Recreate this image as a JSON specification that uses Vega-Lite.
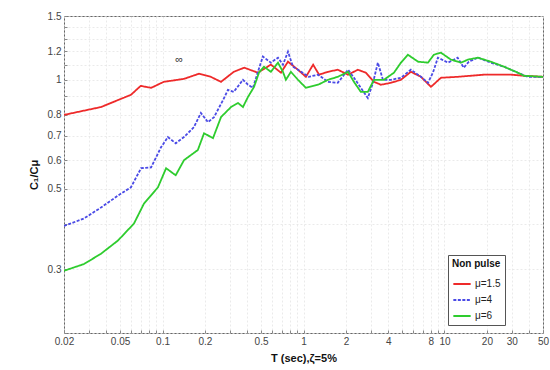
{
  "$schema": "https://vega.github.io/schema/vega-lite/v6.json",
  "autosize": {"type": "none"},
  "width": 479,
  "height": 317,
  "padding": {"left": 64, "top": 16, "right": 7, "bottom": 37},
  "background": "white",
  "config": {
    "view": {"stroke": "#666", "strokeWidth": 1},
    "font": "Liberation Sans",
    "axis": {"gridColor": "#e4e4e4", "gridDash": [2, 2], "gridWidth": 0.8, "domain": false, "tickColor": "#888", "tickSize": -3, "labelColor": "#444", "labelFontSize": 10, "titleFontSize": 11, "titleFontWeight": "bold", "titleColor": "#111"}
  },
  "datasets": {
    "curves": [
      {"T": 0.02, "v": 0.80, "mu": "μ=1.5"},
      {"T": 0.0366, "v": 0.841, "mu": "μ=1.5"},
      {"T": 0.0597, "v": 0.909, "mu": "μ=1.5"},
      {"T": 0.070, "v": 0.962, "mu": "μ=1.5"},
      {"T": 0.083, "v": 0.95, "mu": "μ=1.5"},
      {"T": 0.102, "v": 0.987, "mu": "μ=1.5"},
      {"T": 0.142, "v": 1.006, "mu": "μ=1.5"},
      {"T": 0.181, "v": 1.039, "mu": "μ=1.5"},
      {"T": 0.22, "v": 1.019, "mu": "μ=1.5"},
      {"T": 0.26, "v": 0.987, "mu": "μ=1.5"},
      {"T": 0.32, "v": 1.052, "mu": "μ=1.5"},
      {"T": 0.38, "v": 1.08, "mu": "μ=1.5"},
      {"T": 0.475, "v": 1.046, "mu": "μ=1.5"},
      {"T": 0.587, "v": 1.101, "mu": "μ=1.5"},
      {"T": 0.692, "v": 1.046, "mu": "μ=1.5"},
      {"T": 0.776, "v": 1.122, "mu": "μ=1.5"},
      {"T": 0.914, "v": 1.066, "mu": "μ=1.5"},
      {"T": 1.04, "v": 1.019, "mu": "μ=1.5"},
      {"T": 1.17, "v": 1.101, "mu": "μ=1.5"},
      {"T": 1.29, "v": 1.033, "mu": "μ=1.5"},
      {"T": 1.49, "v": 1.052, "mu": "μ=1.5"},
      {"T": 1.75, "v": 1.066, "mu": "μ=1.5"},
      {"T": 2.07, "v": 1.033, "mu": "μ=1.5"},
      {"T": 2.43, "v": 1.066, "mu": "μ=1.5"},
      {"T": 2.77, "v": 1.046, "mu": "μ=1.5"},
      {"T": 3.16, "v": 0.987, "mu": "μ=1.5"},
      {"T": 3.54, "v": 0.969, "mu": "μ=1.5"},
      {"T": 4.17, "v": 0.981, "mu": "μ=1.5"},
      {"T": 4.91, "v": 1.0, "mu": "μ=1.5"},
      {"T": 5.78, "v": 1.052, "mu": "μ=1.5"},
      {"T": 6.81, "v": 1.019, "mu": "μ=1.5"},
      {"T": 8.02, "v": 0.956, "mu": "μ=1.5"},
      {"T": 9.44, "v": 1.013, "mu": "μ=1.5"},
      {"T": 12.4, "v": 1.019, "mu": "μ=1.5"},
      {"T": 19.0, "v": 1.033, "mu": "μ=1.5"},
      {"T": 29.6, "v": 1.033, "mu": "μ=1.5"},
      {"T": 36.6, "v": 1.026, "mu": "μ=1.5"},
      {"T": 50, "v": 1.019, "mu": "μ=1.5"},

      {"T": 0.02, "v": 0.395, "mu": "μ=4"},
      {"T": 0.0277, "v": 0.414, "mu": "μ=4"},
      {"T": 0.0366, "v": 0.444, "mu": "μ=4"},
      {"T": 0.0483, "v": 0.479, "mu": "μ=4"},
      {"T": 0.0597, "v": 0.505, "mu": "μ=4"},
      {"T": 0.0704, "v": 0.570, "mu": "μ=4"},
      {"T": 0.083, "v": 0.573, "mu": "μ=4"},
      {"T": 0.0975, "v": 0.651, "mu": "μ=4"},
      {"T": 0.109, "v": 0.695, "mu": "μ=4"},
      {"T": 0.124, "v": 0.668, "mu": "μ=4"},
      {"T": 0.142, "v": 0.695, "mu": "μ=4"},
      {"T": 0.167, "v": 0.740, "mu": "μ=4"},
      {"T": 0.187, "v": 0.81, "mu": "μ=4"},
      {"T": 0.21, "v": 0.764, "mu": "μ=4"},
      {"T": 0.232, "v": 0.789, "mu": "μ=4"},
      {"T": 0.269, "v": 0.88, "mu": "μ=4"},
      {"T": 0.291, "v": 0.938, "mu": "μ=4"},
      {"T": 0.32, "v": 0.926, "mu": "μ=4"},
      {"T": 0.372, "v": 1.0, "mu": "μ=4"},
      {"T": 0.404, "v": 0.969, "mu": "μ=4"},
      {"T": 0.438, "v": 0.95, "mu": "μ=4"},
      {"T": 0.475, "v": 1.052, "mu": "μ=4"},
      {"T": 0.515, "v": 1.159, "mu": "μ=4"},
      {"T": 0.587, "v": 1.115, "mu": "μ=4"},
      {"T": 0.659, "v": 1.151, "mu": "μ=4"},
      {"T": 0.715, "v": 1.10, "mu": "μ=4"},
      {"T": 0.776, "v": 1.196, "mu": "μ=4"},
      {"T": 0.842, "v": 1.087, "mu": "μ=4"},
      {"T": 0.914, "v": 1.066, "mu": "μ=4"},
      {"T": 1.09, "v": 1.019, "mu": "μ=4"},
      {"T": 1.27, "v": 1.033, "mu": "μ=4"},
      {"T": 1.49, "v": 0.987, "mu": "μ=4"},
      {"T": 1.75, "v": 0.981, "mu": "μ=4"},
      {"T": 2.07, "v": 1.066, "mu": "μ=4"},
      {"T": 2.28, "v": 1.013, "mu": "μ=4"},
      {"T": 2.55, "v": 0.95, "mu": "μ=4"},
      {"T": 2.86, "v": 0.891, "mu": "μ=4"},
      {"T": 3.11, "v": 0.981, "mu": "μ=4"},
      {"T": 3.37, "v": 1.115, "mu": "μ=4"},
      {"T": 3.66, "v": 1.0, "mu": "μ=4"},
      {"T": 4.17, "v": 1.0, "mu": "μ=4"},
      {"T": 4.91, "v": 1.013, "mu": "μ=4"},
      {"T": 5.78, "v": 1.066, "mu": "μ=4"},
      {"T": 6.81, "v": 1.019, "mu": "μ=4"},
      {"T": 7.64, "v": 0.981, "mu": "μ=4"},
      {"T": 8.28, "v": 1.046, "mu": "μ=4"},
      {"T": 8.98, "v": 1.151, "mu": "μ=4"},
      {"T": 10.6, "v": 1.115, "mu": "μ=4"},
      {"T": 12.4, "v": 1.151, "mu": "μ=4"},
      {"T": 13.7, "v": 1.08, "mu": "μ=4"},
      {"T": 14.9, "v": 1.122, "mu": "μ=4"},
      {"T": 17.3, "v": 1.151, "mu": "μ=4"},
      {"T": 21.3, "v": 1.115, "mu": "μ=4"},
      {"T": 26.4, "v": 1.087, "mu": "μ=4"},
      {"T": 33.2, "v": 1.046, "mu": "μ=4"},
      {"T": 39, "v": 1.019, "mu": "μ=4"},
      {"T": 50, "v": 1.019, "mu": "μ=4"},

      {"T": 0.02, "v": 0.297, "mu": "μ=6"},
      {"T": 0.0277, "v": 0.310, "mu": "μ=6"},
      {"T": 0.0366, "v": 0.331, "mu": "μ=6"},
      {"T": 0.0483, "v": 0.36, "mu": "μ=6"},
      {"T": 0.0627, "v": 0.401, "mu": "μ=6"},
      {"T": 0.0738, "v": 0.455, "mu": "μ=6"},
      {"T": 0.0928, "v": 0.505, "mu": "μ=6"},
      {"T": 0.106, "v": 0.57, "mu": "μ=6"},
      {"T": 0.124, "v": 0.545, "mu": "μ=6"},
      {"T": 0.142, "v": 0.60, "mu": "μ=6"},
      {"T": 0.178, "v": 0.64, "mu": "μ=6"},
      {"T": 0.197, "v": 0.712, "mu": "μ=6"},
      {"T": 0.228, "v": 0.69, "mu": "μ=6"},
      {"T": 0.26, "v": 0.789, "mu": "μ=6"},
      {"T": 0.306, "v": 0.841, "mu": "μ=6"},
      {"T": 0.343, "v": 0.863, "mu": "μ=6"},
      {"T": 0.372, "v": 0.841, "mu": "μ=6"},
      {"T": 0.404, "v": 0.897, "mu": "μ=6"},
      {"T": 0.446, "v": 0.956, "mu": "μ=6"},
      {"T": 0.483, "v": 1.046, "mu": "μ=6"},
      {"T": 0.524, "v": 1.087, "mu": "μ=6"},
      {"T": 0.587, "v": 1.052, "mu": "μ=6"},
      {"T": 0.659, "v": 1.115, "mu": "μ=6"},
      {"T": 0.715, "v": 1.052, "mu": "μ=6"},
      {"T": 0.75, "v": 1.0, "mu": "μ=6"},
      {"T": 0.814, "v": 1.052, "mu": "μ=6"},
      {"T": 0.914, "v": 1.0, "mu": "μ=6"},
      {"T": 1.04, "v": 0.95, "mu": "μ=6"},
      {"T": 1.27, "v": 0.969, "mu": "μ=6"},
      {"T": 1.49, "v": 1.0, "mu": "μ=6"},
      {"T": 1.75, "v": 1.019, "mu": "μ=6"},
      {"T": 2.07, "v": 1.052, "mu": "μ=6"},
      {"T": 2.28, "v": 0.987, "mu": "μ=6"},
      {"T": 2.55, "v": 0.926, "mu": "μ=6"},
      {"T": 2.86, "v": 0.926, "mu": "μ=6"},
      {"T": 3.16, "v": 1.0, "mu": "μ=6"},
      {"T": 3.72, "v": 1.0, "mu": "μ=6"},
      {"T": 4.38, "v": 1.046, "mu": "μ=6"},
      {"T": 4.91, "v": 1.115, "mu": "μ=6"},
      {"T": 5.5, "v": 1.173, "mu": "μ=6"},
      {"T": 6.49, "v": 1.122, "mu": "μ=6"},
      {"T": 7.64, "v": 1.115, "mu": "μ=6"},
      {"T": 8.41, "v": 1.173, "mu": "μ=6"},
      {"T": 9.44, "v": 1.188, "mu": "μ=6"},
      {"T": 11.1, "v": 1.137, "mu": "μ=6"},
      {"T": 13.1, "v": 1.115, "mu": "μ=6"},
      {"T": 14.7, "v": 1.137, "mu": "μ=6"},
      {"T": 17.3, "v": 1.151, "mu": "μ=6"},
      {"T": 21.3, "v": 1.122, "mu": "μ=6"},
      {"T": 26.4, "v": 1.087, "mu": "μ=6"},
      {"T": 33.2, "v": 1.046, "mu": "μ=6"},
      {"T": 36.6, "v": 1.026, "mu": "μ=6"},
      {"T": 50, "v": 1.019, "mu": "μ=6"}
    ],
    "notes": [{"T": 0.131, "v": 1.135, "label": "∞"}]
  },
  "layer": [
    {
      "data": {"name": "curves"},
      "mark": {"type": "line", "strokeWidth": 1.8, "clip": true},
      "encoding": {
        "x": {
          "field": "T", "type": "quantitative",
          "scale": {"type": "log", "domain": [0.02, 50], "nice": false},
          "axis": {
            "title": "T  (sec),ζ=5%",
            "titlePadding": 6,
            "labelOverlap": false,
            "labelFlush": false,
            "labelPadding": 6,
            "values": [0.02,0.03,0.04,0.05,0.06,0.07,0.08,0.09,0.1,0.2,0.3,0.4,0.5,0.6,0.7,0.8,0.9,1,2,3,4,5,6,7,8,9,10,20,30,40,50],
            "labelExpr": "indexof([0.02,0.05,0.1,0.2,0.5,1,2,4,8,10,20,30,50], datum.value) >= 0 ? '' + datum.value : ''"
          }
        },
        "y": {
          "field": "v", "type": "quantitative",
          "scale": {"type": "log", "domain": [0.2, 1.5], "nice": false},
          "axis": {
            "title": "C₁/Cμ",
            "titlePadding": 8,
            "labelOverlap": false,
            "labelFlush": false,
            "labelPadding": 6,
            "values": [0.2,0.3,0.4,0.5,0.6,0.7,0.8,0.9,1,1.1,1.2,1.3,1.4,1.5],
            "labelExpr": "indexof([0.3,0.5,0.6,0.7,0.8,1,1.2,1.5], datum.value) >= 0 ? '' + datum.value : ''"
          }
        },
        "color": {
          "field": "mu", "type": "nominal",
          "scale": {"domain": ["μ=1.5", "μ=4", "μ=6"], "range": ["#ee2a2a", "#4a4ae6", "#2ecc2e"]},
          "legend": {
            "title": "Non pulse",
            "orient": "none",
            "legendX": 384,
            "legendY": 239,
            "strokeColor": "#555",
            "fillColor": "white",
            "padding": 4,
            "titlePadding": 5,
            "titleFontWeight": "bold",
            "titleFontSize": 10,
            "titleColor": "#111",
            "labelFontSize": 10,
            "labelColor": "#222",
            "labelOffset": 3,
            "symbolType": "stroke",
            "symbolSize": 300,
            "symbolStrokeWidth": 2,
            "rowPadding": 1
          }
        },
        "strokeDash": {
          "field": "mu", "type": "nominal",
          "scale": {"domain": ["μ=1.5", "μ=4", "μ=6"], "range": [[1, 0], [3, 1.5], [1, 0]]},
          "legend": {"title": "Non pulse"}
        }
      }
    },
    {
      "data": {"name": "notes"},
      "mark": {"type": "text", "fontSize": 11, "color": "#333"},
      "encoding": {
        "x": {"field": "T", "type": "quantitative"},
        "y": {"field": "v", "type": "quantitative"},
        "text": {"field": "label"}
      }
    }
  ]
}
